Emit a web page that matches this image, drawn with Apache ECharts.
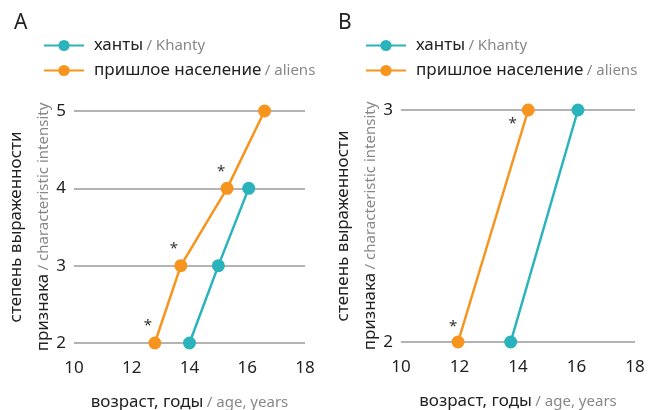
<!DOCTYPE html>
<html>
<head>
<meta charset="utf-8">
<script src="https://cdn.jsdelivr.net/npm/echarts@6/dist/echarts.min.js"></script>
<style>html,body{margin:0;padding:0;background:#fff}#c{width:659px;height:410px}</style>
</head>
<body>
<div id="c"></div>
<script>
// Panel A data: [age, intensity]
var khantyA = [[14.0, 2], [15.0, 3], [16.05, 4]];
var aliensA = [[12.8, 2], [13.7, 3], [15.3, 4], [16.6, 5]];
var aliensA_star = [true, true, true, false];
// Panel B data
var khantyB = [[13.75, 2], [16.05, 3]];
var aliensB = [[11.95, 2], [14.35, 3]];
var aliensB_star = [true, true];
var xTicks = [10, 12, 14, 16, 18];
var panelLabels = ['A', 'B'];
var seriesNames = ['ханты', 'пришлое население'];
var seriesNamesEn = ['Khanty', 'aliens'];

var TEAL = '#2bb3bc', ORANGE = '#f7941d';
var FONT = 'Noto Sans';

function starData(pts, flags, pos) {
  return pts.map(function (p, i) {
    return flags[i] ? {value: p, label: {show: true, formatter: '*', position: pos[i] ? pos[i].p : 'top', offset: pos[i] ? pos[i].o : [0,0], color: '#333', fontSize: 15, fontFamily: FONT}} : {value: p};
  });
}

function mkSeries(name, color, data, xi) {
  return {
    type: 'line', name: name, xAxisIndex: xi, yAxisIndex: xi,
    data: data, symbol: 'circle', symbolSize: 13,
    lineStyle: {color: color, width: 2.5}, itemStyle: {color: color},
    z: name === seriesNames[1] ? 3 : 2, animation: false
  };
}

var yName = '{a|степень выраженности}\n{a|признака} {b|/ characteristic intensity}';
var yNameRich = {
  a: {fontSize: 17, color: '#222', fontFamily: FONT, lineHeight: 27},
  b: {fontSize: 15, color: '#888', fontFamily: FONT, lineHeight: 27}
};
var xName = '{a|возраст, годы} {b|/ age, years}';
var xNameRich = {
  a: {fontSize: 17, color: '#222', fontFamily: FONT},
  b: {fontSize: 15, color: '#888', fontFamily: FONT}
};

function mkX(gi) {
  return {
    type: 'value', gridIndex: gi, min: xTicks[0], max: xTicks[xTicks.length - 1], interval: 2,
    axisLine: {show: false}, axisTick: {show: false}, splitLine: {show: false},
    axisLabel: {fontSize: 17, color: '#222', fontFamily: FONT, margin: 17},
    name: xName, nameLocation: 'middle', nameGap: 51, nameTextStyle: {rich: xNameRich}
  };
}
function mkY(gi, max) {
  return {
    type: 'value', gridIndex: gi, min: 2, max: max, interval: 1,
    axisLine: {show: false}, axisTick: {show: false},
    splitLine: {show: true, lineStyle: {color: '#9a9a9a', width: 1.5}},
    axisLabel: {fontSize: 17, color: '#222', fontFamily: FONT, margin: 8},
    name: yName, nameLocation: 'middle', nameRotate: 90, nameGap: 17,
    nameTextStyle: {rich: yNameRich, align: 'center'}
  };
}
function mkLegend(left) {
  return {
    orient: 'vertical', left: left, top: 32, itemWidth: 40, itemHeight: 14, itemGap: 8,
    data: seriesNames,
    formatter: function (n) { return '{a|' + n + '} {b|/ ' + seriesNamesEn[seriesNames.indexOf(n)] + '}'; },
    textStyle: {rich: {
      a: {fontSize: 17, color: '#222', fontFamily: FONT, padding: [0, 0, 0, 5]},
      b: {fontSize: 15, color: '#888', fontFamily: FONT}
    }}
  };
}

var chart = echarts.init(document.getElementById('c'), null, {renderer: 'canvas'});
chart.setOption({
  animation: false,
  title: [
    {text: panelLabels[0], left: 9, top: 8, textStyle: {fontSize: 21, fontWeight: 'normal', color: '#222', fontFamily: FONT}},
    {text: panelLabels[1], left: 333, top: 8, textStyle: {fontSize: 21, fontWeight: 'normal', color: '#222', fontFamily: FONT}}
  ],
  legend: [mkLegend(38), mkLegend(360)],
  grid: [
    {left: 74, top: 111, width: 231, height: 232, outerBoundsMode: 'none', containLabel: false},
    {left: 401, top: 110, width: 234, height: 232, outerBoundsMode: 'none', containLabel: false}
  ],
  xAxis: [mkX(0), mkX(1)],
  yAxis: [mkY(0, 5), mkY(1, 3)],
  series: [
    mkSeries(seriesNames[0], TEAL, khantyA, 0),
    mkSeries(seriesNames[1], ORANGE, starData(aliensA, aliensA_star, [{p:'top',o:[-7,2]},{p:'top',o:[-7,2]},{p:'top',o:[-6,2]}]), 0),
    mkSeries(seriesNames[0], TEAL, khantyB, 1),
    mkSeries(seriesNames[1], ORANGE, starData(aliensB, aliensB_star, [{p:'top',o:[-5,4]},{p:'left',o:[0,14]}]), 1)
  ]
});
</script>
</body>
</html>
